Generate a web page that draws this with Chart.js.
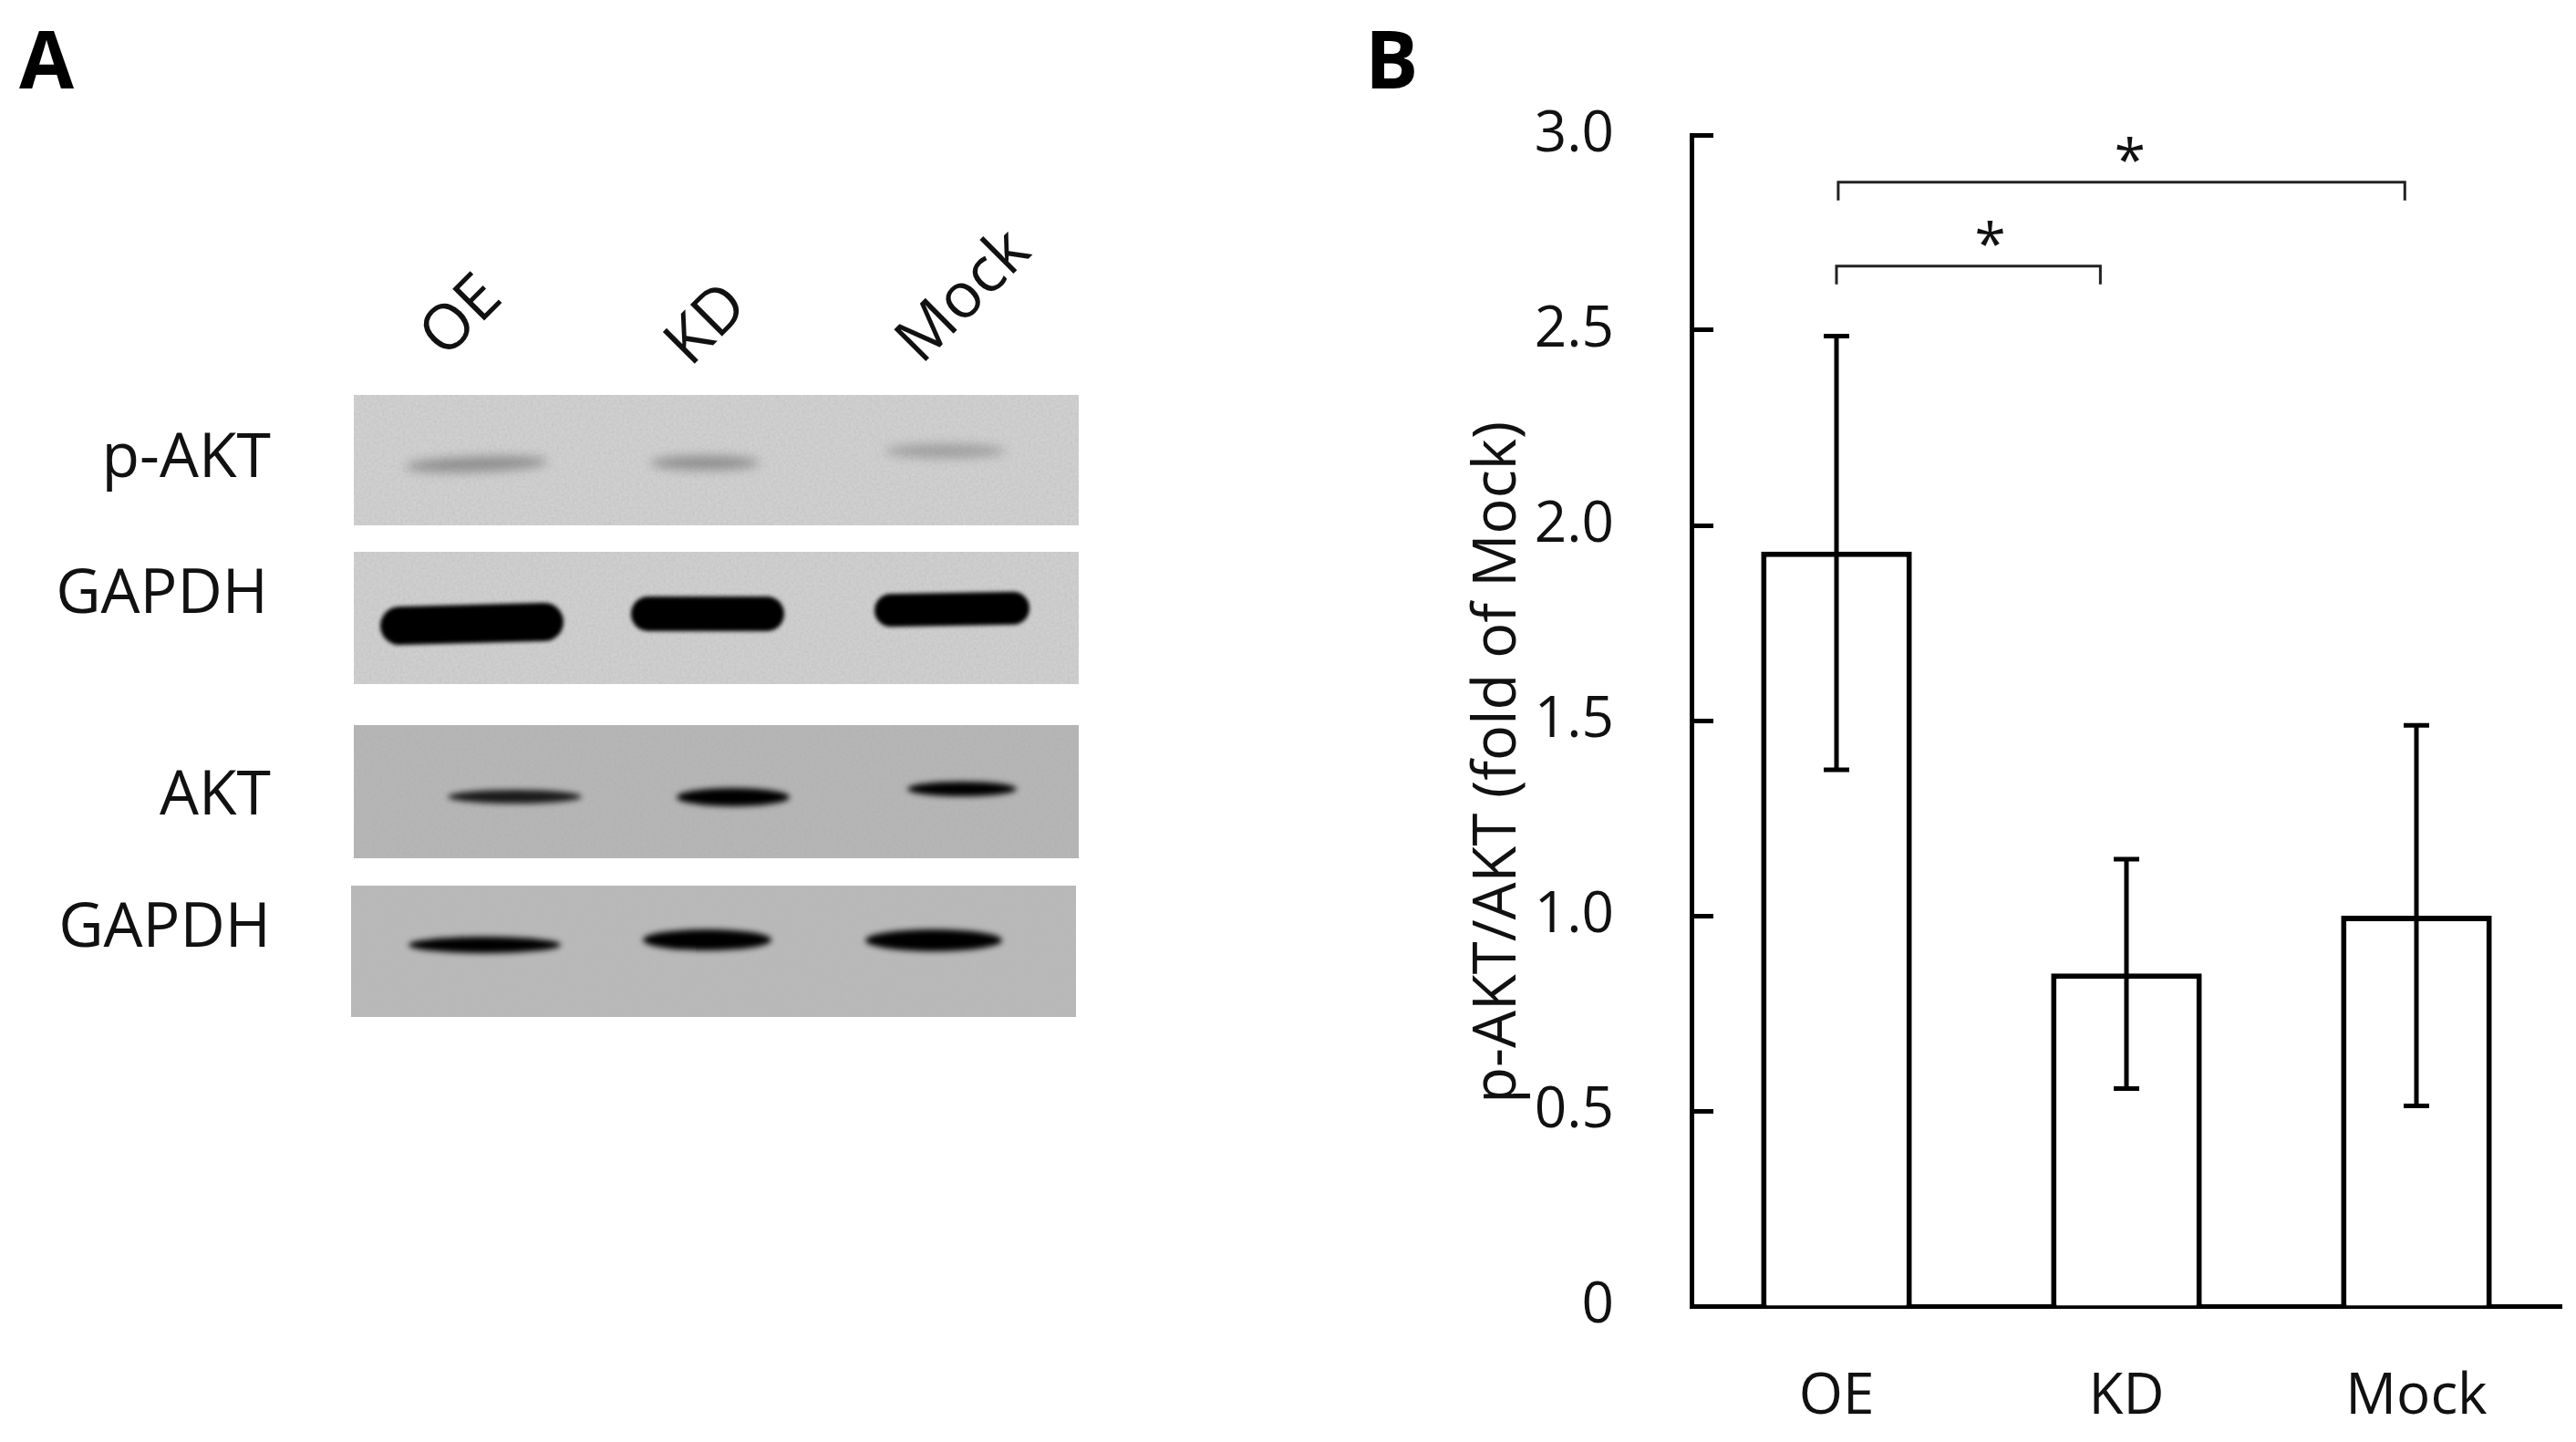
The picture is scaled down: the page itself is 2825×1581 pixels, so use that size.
<!DOCTYPE html>
<html>
<head>
<meta charset="utf-8">
<title>p-AKT</title>
<script src="https://cdn.jsdelivr.net/npm/chart.js@4"></script>
<style>
  html, body { margin: 0; background: #fff; }
  body { position: relative; width: 2825px; height: 1581px; overflow: hidden; font-family: "Open Sans", sans-serif; color: #111; }
  canvas { position: absolute; left: 0; top: 0; }
  .tag { position: absolute; font-size: 87px; font-weight: 700; line-height: 1; color: #000; }
  .name { position: absolute; font-size: 68px; line-height: 1; text-align: right; width: 300px; transform: translateY(-50%); }
  .lane { position: absolute; font-size: 69px; line-height: 1; transform: translate(-50%, -50%) rotate(-45deg); }
  .blot { position: absolute; overflow: hidden; }
  .blot svg { position: absolute; left: 0; top: 0; width: 100%; height: 100%; }
  .band { position: absolute; border-radius: 50%; }
  .faint { background: #787878; filter: blur(6px); opacity: .75; }
  .heavy { background: #000; filter: blur(2px); border-radius: 22px; }
  .mid { background: #000; filter: blur(3px); }
</style>
</head>
<body>
<svg width="0" height="0" style="position:absolute">
  <filter id="grain"><feTurbulence type="fractalNoise" baseFrequency="0.35" numOctaves="2" seed="4"/><feColorMatrix values="0 0 0 0 0.5  0 0 0 0 0.5  0 0 0 0 0.5  0.9 0 0 0 -0.28"/></filter>
</svg>

<div class="tag" style="left:21px;top:20px">A</div>
<div class="tag" style="left:1497px;top:20px">B</div>

<div class="lane" style="left:502px;top:343px">OE</div>
<div class="lane" style="left:771px;top:352px">KD</div>
<div class="lane" style="left:1053px;top:321px">Mock</div>

<div class="name" style="left:-3px;top:497px">p-AKT</div>
<div class="name" style="left:-6px;top:646px">GAPDH</div>
<div class="name" style="left:-3px;top:867px">AKT</div>
<div class="name" style="left:-3px;top:1012px">GAPDH</div>

<div class="blot" style="left:388px;top:433px;width:795px;height:143px;background:#d0d0d0">
  <svg><rect width="100%" height="100%" filter="url(#grain)"/></svg>
  <div class="band faint" style="left:56px;top:68px;width:157px;height:16px;transform:rotate(-2deg)"></div>
  <div class="band faint" style="left:325px;top:67px;width:120px;height:15px"></div>
  <div class="band faint" style="left:582px;top:54px;width:133px;height:15px;opacity:.55"></div>
</div>
<div class="blot" style="left:388px;top:605px;width:795px;height:145px;background:#cfcfcf">
  <svg><rect width="100%" height="100%" filter="url(#grain)"/></svg>
  <div class="band heavy" style="left:29px;top:58px;width:201px;height:42px;transform:rotate(-1.5deg)"></div>
  <div class="band heavy" style="left:304px;top:49px;width:168px;height:38px"></div>
  <div class="band heavy" style="left:571px;top:45px;width:170px;height:36px;transform:rotate(-1deg)"></div>
</div>
<div class="blot" style="left:388px;top:795px;width:795px;height:146px;background:#b3b3b3">
  <svg><rect width="100%" height="100%" filter="url(#grain)"/></svg>
  <div class="band mid" style="left:103px;top:71px;width:147px;height:15px;opacity:.85"></div>
  <div class="band mid" style="left:354px;top:69px;width:124px;height:20px"></div>
  <div class="band mid" style="left:607px;top:62px;width:120px;height:16px"></div>
</div>
<div class="blot" style="left:385px;top:971px;width:795px;height:144px;background:#b8b8b8">
  <svg><rect width="100%" height="100%" filter="url(#grain)"/></svg>
  <div class="band mid" style="left:63px;top:56px;width:167px;height:18px"></div>
  <div class="band mid" style="left:320px;top:48px;width:141px;height:23px"></div>
  <div class="band mid" style="left:564px;top:48px;width:150px;height:24px"></div>
</div>

<canvas id="chart" width="2825" height="1581"></canvas>

<script>
const categories = ['OE', 'KD', 'Mock'];
const foldValues = [1.933, 0.852, 1.0];
const errLow = [1.374, 0.557, 0.513];
const errHigh = [2.485, 1.145, 1.488];
const yTickLabels = ['0', '0.5', '1.0', '1.5', '2.0', '2.5', '3.0'];
const yTitle = 'p-AKT/AKT (fold of Mock)';

// significance brackets, in category and value units
const bracketFrom = [0, 0.006];
const bracketTo = [0.91, 1.96];
const bracketY = [2.664, 2.879];
const bracketStar = [0.53, 1.012];

const canvas = document.getElementById('chart');

const extras = {
  id: 'extras',
  afterDatasetsDraw(chart) {
    const { ctx, scales: { x, y } } = chart;
    ctx.save();
    ctx.strokeStyle = '#000';

    // error bars
    categories.forEach((c, i) => {
      const px = x.getPixelForValue(i);
      const lo = y.getPixelForValue(errLow[i]);
      const hi = y.getPixelForValue(errHigh[i]);
      ctx.lineWidth = 5;
      ctx.beginPath();
      ctx.moveTo(px, lo);
      ctx.lineTo(px, hi);
      ctx.moveTo(px - 14, lo);
      ctx.lineTo(px + 14, lo);
      ctx.moveTo(px - 14, hi);
      ctx.lineTo(px + 14, hi);
      ctx.stroke();
    });

    // brackets and stars
    bracketY.forEach((v, i) => {
      const a = x.getPixelForValue(bracketFrom[i]);
      const b = x.getPixelForValue(bracketTo[i]);
      const top = y.getPixelForValue(v);
      ctx.strokeStyle = '#222';
      ctx.lineWidth = 3;
      ctx.beginPath();
      ctx.moveTo(a, top + 20);
      ctx.lineTo(a, top);
      ctx.lineTo(b, top);
      ctx.lineTo(b, top + 20);
      ctx.stroke();
      ctx.fillStyle = '#111';
      ctx.font = '62px "Open Sans", sans-serif';
      ctx.textAlign = 'center';
      ctx.textBaseline = 'middle';
      ctx.fillText('*', x.getPixelForValue(bracketStar[i]), top - 20);
    });

    // axis title sits below the middle of the axis in the original
    ctx.fillStyle = '#111';
    ctx.font = '65px "Open Sans", sans-serif';
    ctx.textAlign = 'center';
    ctx.textBaseline = 'middle';
    ctx.translate(1643, y.getPixelForValue(1.393));
    ctx.rotate(-Math.PI / 2);
    ctx.fillText(yTitle, 0, 0);
    ctx.restore();
  }
};

new Chart(canvas, {
  type: 'bar',
  data: {
    labels: categories,
    datasets: [{
      data: foldValues,
      backgroundColor: '#fff',
      borderColor: '#000',
      borderWidth: 6,
      barPercentage: 0.52,
      categoryPercentage: 1
    }]
  },
  plugins: [extras],
  options: {
    responsive: false,
    animation: false,
    layout: { padding: { left: 1505, top: 148, right: 16, bottom: 0 } },
    plugins: { legend: { display: false }, title: { display: false }, tooltip: { enabled: false } },
    scales: {
      x: {
        afterFit(scale) { scale.height = 149; },
        grid: { display: false, drawTicks: false },
        border: { color: '#000', width: 5 },
        ticks: { color: '#111', font: { family: '"Open Sans", sans-serif', size: 62 }, padding: 63, maxRotation: 0 }
      },
      y: {
        min: 0,
        max: 3,
        afterFit(scale) { scale.width = 350; },
        grid: { drawOnChartArea: false, tickLength: -24, tickWidth: 5, tickColor: '#000' },
        border: { color: '#000', width: 5 },
        ticks: {
          stepSize: 0.5,
          padding: 109,
          color: '#111',
          font: { family: '"Open Sans", sans-serif', size: 62 },
          callback: (v, i) => yTickLabels[i]
        }
      }
    }
  }
});
</script>
</body>
</html>
